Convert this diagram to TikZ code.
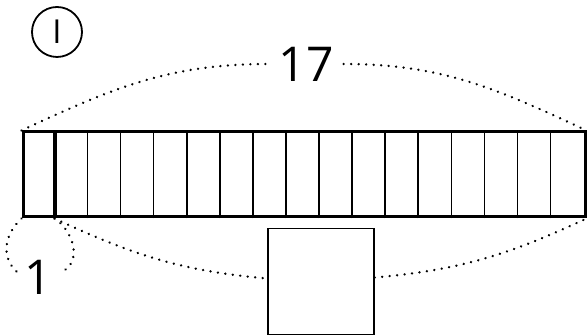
\documentclass[tikz,border=0pt]{standalone}
\usepackage{fontspec}
\setmainfont{Open Sans}
\begin{document}
\begin{tikzpicture}[x=1pt,y=1pt,
  dotline/.style={line width=2.6pt, dash pattern=on 0.01pt off 7.5pt, line cap=round},
  cellline/.style={line width=1.5pt},
  bignum/.style={font=\fontsize{48}{48}\selectfont, inner sep=0pt}]
\useasboundingbox (0,0) rectangle (587,336);
% numeral circle
\node[circle, draw, line width=1.8pt, minimum size=50pt, inner sep=0pt,
      font=\fontsize{33}{33}\selectfont] (roman) at (57,304) {I};
% bar
\node[draw, line width=3pt, minimum width=562pt, minimum height=85pt, inner sep=0pt] (bar) at (304,161.5) {};
\foreach \i in {2,...,16}
  \draw[cellline] ([xshift=\i*33.06pt]bar.south west) -- ([xshift=\i*33.06pt]bar.north west);
\coordinate (c1b) at ([xshift=33.06pt]bar.south west);
\coordinate (c1t) at ([xshift=33.06pt]bar.north west);
\draw[line width=4pt] (c1b) -- (c1t);
% labels
\node[bignum, inner xsep=10pt] (n17) at (306,272) {17};
\node[bignum] (n1) at (38,59) {1};
\coordinate (lp) at (17,64);
\coordinate (rp) at (65,66);
% square
\node[draw, line width=1.4pt, minimum size=106pt, inner sep=0pt] (sq) at (321,54.5) {};
% dotted arcs
\draw[dotline] (bar.north west) to[out=25,in=180] (n17.west);
\draw[dotline] (n17.east) to[out=0,in=155] (bar.north east);
\draw[dotline] (c1b) to[out=-25,in=175] ([yshift=3pt]sq.west);
\draw[dotline] ([yshift=4pt]sq.east) to[out=5,in=-155] (bar.south east);
\draw[dotline] (bar.south west) .. controls (5,102) and (0,80) .. (lp);
\draw[dotline] (c1b) .. controls (72,106) and (82,78) .. (rp);
\end{tikzpicture}
\end{document}
